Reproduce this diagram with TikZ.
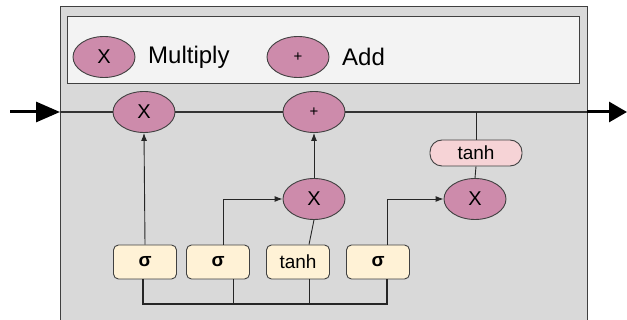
\documentclass[tikz,border=0pt]{standalone}
\usepackage{fontspec}
\setmainfont{Liberation Sans}
\usetikzlibrary{shapes.geometric,arrows.meta}
\definecolor{bg}{HTML}{D9D9D9}
\definecolor{legendbg}{HTML}{F3F3F3}
\definecolor{opfill}{HTML}{CD8BAB}
\definecolor{gatefill}{HTML}{FFF2D6}
\definecolor{tanhfill}{HTML}{F6D3D6}
\definecolor{edge}{HTML}{404040}
\begin{document}
\begin{tikzpicture}[x=1pt,y=-1pt,
  op/.style={ellipse,draw=edge,line width=0.9pt,fill=opfill,minimum width=62pt,minimum height=41pt,inner sep=0pt,font=\fontsize{20}{20}\selectfont},
  plusop/.style={op,font=\fontsize{15}{15}\selectfont},
  gate/.style={rectangle,rounded corners=5pt,draw=edge,line width=0.9pt,fill=gatefill,minimum width=63pt,minimum height=34pt,inner sep=0pt,font=\fontsize{19}{19}\selectfont},
  pill/.style={rectangle,rounded corners=12pt,draw=edge,line width=0.9pt,fill=tanhfill,minimum width=92pt,minimum height=26pt,inner sep=0pt,font=\fontsize{19}{19}\selectfont},
  wire/.style={draw=black!85,line width=0.9pt},
  arr/.style={wire,-{Latex[length=8pt,width=6pt]}},
  bigarr/.style={line width=3pt,-{Triangle[length=24pt,width=20pt]}},
  lbl/.style={font=\fontsize{24}{24}\selectfont,anchor=west,inner sep=0pt}
]
\useasboundingbox (0,0) rectangle (627,320);
% outer box
\fill[white] (0,0) rectangle (627,320);
\draw[fill=bg,draw=edge,line width=1pt] (60,7) -- (587,7) -- (587,330) -- (60,330) -- cycle;
% legend
\draw[fill=legendbg,draw=edge,line width=1pt] (67,17) rectangle (579,84);
\node[op] (lx) at (104,57) {X};
\node[lbl] (lmul) at (148,57) {Multiply};
\node[plusop] (lp) at (298,57) {+};
\node[lbl] (ladd) at (342,57) {Add};
% coordinates for main line
\coordinate (inL) at (10,112);
\coordinate (boxL) at (60,112);
\coordinate (boxR) at (587,112);
\coordinate (outR) at (627,112);
% operation nodes
\node[op] (m1) at (144,112) {X};
\node[plusop] (a1) at (314,112) {+};
\node[pill] (t2) at (476,153) {tanh};
\node[op] (m2) at (314,199) {X};
\node[op] (m3) at (475,199) {X};
% gates
\node[gate] (g1) at (145,262) {\textbf{σ}};
\node[gate] (g2) at (218,262) {\textbf{σ}};
\node[gate] (g3) at (298,262) {tanh};
\node[gate] (g4) at (378,262) {\textbf{σ}};
% main line
\draw[bigarr] (inL) -- (boxL);
\draw[line width=1.6pt,draw=black!80] (boxL) -- (m1) -- (a1) -- (boxR);
\draw[line width=3pt,-{Triangle[length=18pt,width=20pt]}] (boxR) -- (outR);
% tanh tap
\coordinate (tap) at (476,112);
\draw[wire] (tap) -- (t2.north);
\draw[wire] (t2.south) -- (m3.north);
% gate connections
\draw[arr] (g1.north) -- (m1.south);
\draw[arr] (223,245) |- (m2.west);
\draw[wire] (g3.north -| 309,0) -- (m2.south);
\draw[arr] (m2.north) -- (a1.south);
\draw[arr] (387,245) |- (m3.west);
% bottom bus
\coordinate (bus1) at (143,304);
\coordinate (bus4) at (387,304);
\draw[wire,line width=1.2pt] (143,279) -- (bus1) -- (bus4) -- (387,279);
\draw[wire] (233,279) -- (233,304);
\draw[wire] (309,279) -- (309,304);
\end{tikzpicture}
\end{document}
